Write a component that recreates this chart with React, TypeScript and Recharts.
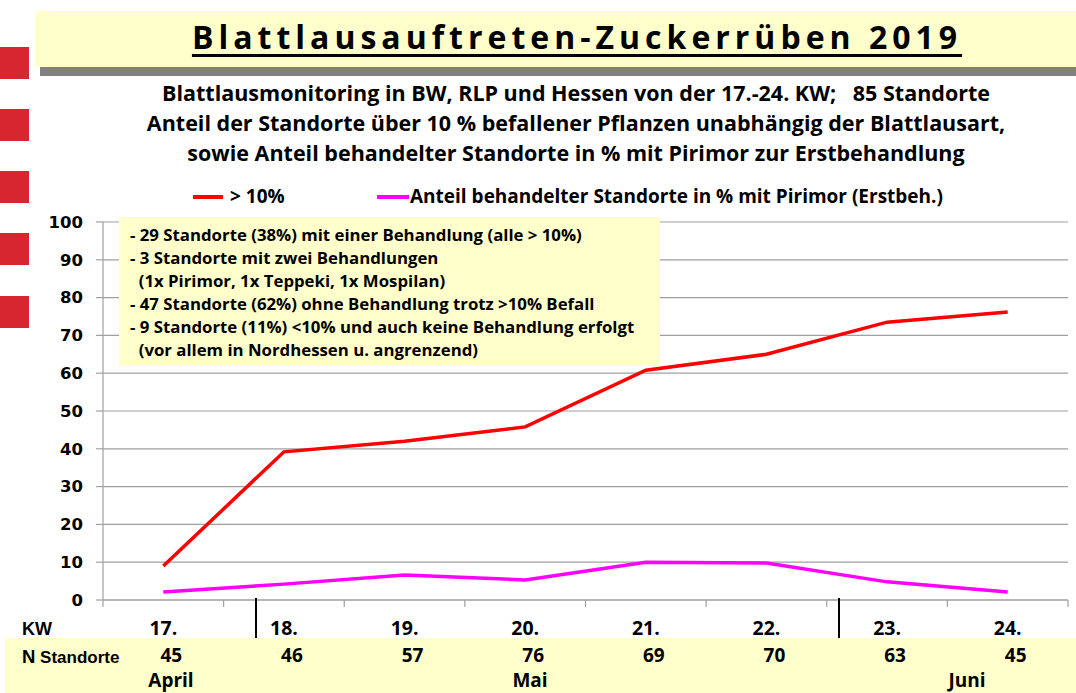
import { LineChart, Line, XAxis, YAxis, CartesianGrid } from "recharts"

const weeks = ["17.", "18.", "19.", "20.", "21.", "22.", "23.", "24."]
const nStandorte = [45, 46, 57, 76, 69, 70, 63, 45]
const over10 = [9, 39.2, 42, 45.8, 60.8, 65, 73.5, 76.2]
const pirimor = [2.1, 4.2, 6.6, 5.3, 10, 9.8, 4.8, 2.1]
const yTicks = [0, 10, 20, 30, 40, 50, 60, 70, 80, 90, 100]

const subtitleLines = [
  "Blattlausmonitoring in BW, RLP und Hessen von der 17.-24. KW;   85 Standorte",
  "Anteil der Standorte über 10 % befallener Pflanzen unabhängig der Blattlausart,",
  "sowie Anteil behandelter Standorte in % mit Pirimor zur Erstbehandlung",
]

const noteLines = [
  "- 29 Standorte (38%) mit einer Behandlung (alle > 10%)",
  "- 3 Standorte mit zwei Behandlungen",
  "  (1x Pirimor, 1x Teppeki, 1x Mospilan)",
  "- 47 Standorte (62%) ohne Behandlung trotz >10% Befall",
  "- 9 Standorte (11%) <10% und auch keine Behandlung erfolgt",
  "  (vor allem in Nordhessen u. angrenzend)",
]

const months = [
  { name: "April", left: 171 },
  { name: "Mai", left: 530 },
  { name: "Juni", left: 967 },
]

const data = weeks.map((kw, i) => ({
  kw,
  n: nStandorte[i],
  over10: over10[i],
  pirimor: pirimor[i],
}))

const TEXT_FONT = "'Open Sans', Lato, sans-serif"
const ARIAL = "'Liberation Sans', Arial, sans-serif"
const GRID = "#a0a0a0"
const YELLOW = "#ffffcc"

function WeekTick(props: any) {
  const { x, y, index, payload } = props
  const count = props.visibleTicksCount || weeks.length
  const bw = (props.width || 965) / count
  const left = x - bw / 2
  return (
    <g>
      <line x1={left} y1={y} x2={left} y2={y + 7} stroke={GRID} strokeWidth={1.2} />
      {index === count - 1 && <line x1={left + bw} y1={y} x2={left + bw} y2={y + 7} stroke={GRID} strokeWidth={1.2} />}
      <text x={x} y={y + 35} textAnchor="middle" fontFamily={TEXT_FONT} fontWeight="bold" fontSize={19.5} fill="#000">
        {payload.value}
      </text>
      <text x={x + 8} y={y + 62} textAnchor="middle" fontFamily={TEXT_FONT} fontWeight="bold" fontSize={19} fill="#000">
        {nStandorte[index]}
      </text>
    </g>
  )
}

export default function App() {
  return (
    <div style={{ position: "absolute", left: 0, top: 0, width: 1076, height: 693, background: "#fff", overflow: "hidden" }}>
      {/* red squares on the left */}
      {[47, 109, 171, 233, 296].map((t) => (
        <div key={t} style={{ position: "absolute", left: 0, top: t, width: 29, height: 32, background: "#d6262f" }} />
      ))}

      {/* title box */}
      <div style={{ position: "absolute", left: 40, top: 67, width: 1036, height: 9, background: "#808080" }} />
      <div style={{ position: "absolute", left: 36, top: 11, width: 1040, height: 56, background: YELLOW }} />
      <div
        style={{
          position: "absolute",
          left: 36,
          top: 17,
          width: 1082,
          textAlign: "center",
          fontFamily: TEXT_FONT,
          fontWeight: "bold",
          fontSize: 32,
          letterSpacing: 5,
          textDecoration: "underline",
          textDecorationThickness: 3,
          textUnderlineOffset: 5,
          color: "#000",
          lineHeight: "40px",
          whiteSpace: "pre",
        }}
      >
        Blattlausauftreten-Zuckerrüben 2019
      </div>

      {/* subtitle */}
      {subtitleLines.map((line, i) => (
        <div
          key={i}
          style={{
            position: "absolute",
            left: 0,
            top: 80 + i * 30,
            width: 1152,
            textAlign: "center",
            fontFamily: TEXT_FONT,
            fontWeight: "bold",
            fontSize: 21.5,
            lineHeight: "26px",
            whiteSpace: "pre",
            color: "#000",
          }}
        >
          {line}
        </div>
      ))}

      {/* legend */}
      <div style={{ position: "absolute", left: 193, top: 195, width: 30, height: 4, background: "#ff0000" }} />
      <div style={{ position: "absolute", left: 230, top: 185, fontFamily: TEXT_FONT, fontWeight: "bold", fontSize: 19, lineHeight: "22px", whiteSpace: "pre" }}>
        &gt; 10%
      </div>
      <div style={{ position: "absolute", left: 377, top: 195, width: 32, height: 4, background: "#ff00ff" }} />
      <div style={{ position: "absolute", left: 410, top: 185, fontFamily: TEXT_FONT, fontWeight: "bold", fontSize: 19, lineHeight: "22px", whiteSpace: "pre" }}>
        Anteil behandelter Standorte in % mit Pirimor (Erstbeh.)
      </div>

      {/* bottom table band */}
      <div style={{ position: "absolute", left: 5, top: 638, width: 1071, height: 55, background: YELLOW }} />

      <div style={{ position: "absolute", left: 0, top: 0 }}>
        <LineChart width={1076} height={693} data={data} margin={{ top: 222, right: 8, bottom: 0, left: 0 }}>
          <CartesianGrid vertical={false} stroke={GRID} strokeWidth={1.2} />
          <XAxis
            dataKey="kw"
            scale="band"
            height={93}
            tickLine={false}
            tickSize={0}
            tickMargin={0}
            axisLine={{ stroke: GRID, strokeWidth: 1.2 }}
            tick={<WeekTick />}
            interval={0}
          />
          <YAxis
            width={103}
            domain={[0, 100]}
            ticks={yTicks}
            interval={0}
            tickSize={7}
            tickMargin={13}
            axisLine={{ stroke: GRID, strokeWidth: 1.2 }}
            tickLine={{ stroke: GRID, strokeWidth: 1.2 }}
            tick={{ fill: "#000", fontFamily: "'DejaVu Sans', Verdana, sans-serif", fontWeight: "bold", fontSize: 16.5 }}
          />
          <Line dataKey="over10" stroke="#ff0000" strokeWidth={3.5} dot={false} isAnimationActive={false} />
          <Line dataKey="pirimor" stroke="#ff00ff" strokeWidth={3.5} dot={false} isAnimationActive={false} />
        </LineChart>
      </div>

      {/* month separators */}
      <div style={{ position: "absolute", left: 255, top: 598, width: 1.5, height: 40, background: "#000" }} />
      <div style={{ position: "absolute", left: 838, top: 598, width: 1.5, height: 40, background: "#000" }} />

      {/* row labels */}
      <div style={{ position: "absolute", left: 22, top: 618, fontFamily: ARIAL, fontWeight: "bold", fontSize: 18, lineHeight: "22px" }}>
        KW
      </div>
      <div style={{ position: "absolute", left: 22, top: 646, fontFamily: ARIAL, fontWeight: "bold", lineHeight: "22px", whiteSpace: "pre" }}>
        <span style={{ fontSize: 18.5 }}>N</span>
        <span style={{ fontSize: 17 }}> Standorte</span>
      </div>
      {months.map((m) => (
        <div
          key={m.name}
          style={{
            position: "absolute",
            left: m.left - 60,
            width: 120,
            top: 668,
            textAlign: "center",
            fontFamily: TEXT_FONT,
            fontWeight: "bold",
            fontSize: 19,
            lineHeight: "24px",
          }}
        >
          {m.name}
        </div>
      ))}

      {/* annotation box */}
      <div
        style={{
          position: "absolute",
          left: 119,
          top: 217,
          width: 541,
          height: 149,
          background: YELLOW,
          boxSizing: "border-box",
          padding: "6px 0 0 11px",
          fontFamily: TEXT_FONT,
          fontWeight: "bold",
          fontSize: 16.8,
          lineHeight: "23px",
          whiteSpace: "pre",
          color: "#000",
        }}
      >
        {noteLines.map((l, i) => (
          <div key={i}>{l}</div>
        ))}
      </div>
    </div>
  )
}
